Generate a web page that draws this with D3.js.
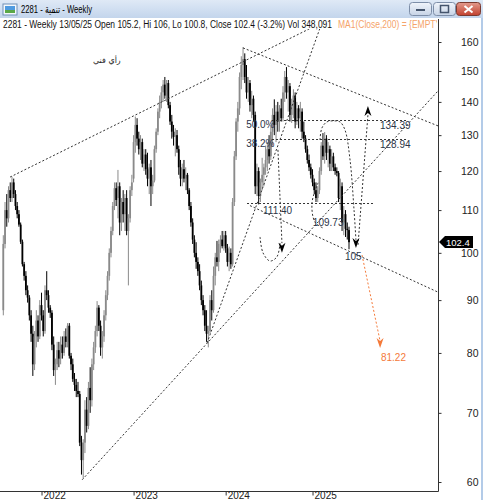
<!DOCTYPE html>
<html>
<head>
<meta charset="utf-8">
<script src="https://cdn.jsdelivr.net/npm/d3@7"></script>
<style>
body { margin: 0; background: #fff; }
svg { display: block; font-family: "Liberation Sans", Arial, "DejaVu Sans", sans-serif; }
</style>
</head>
<body>
<div id="chart"></div>
<script>
// weekly candles, 2281
var opens = [88,102,110,108,115,113,117,114,111,109,106.5,102.5,97.5,95,92,90.5,87,83.5,78,83,86,83,89,87,84,92,91,88.5,87.5,81.5,
  77,78,80.5,79,81.5,80,83,82,85,79.5,78,75.5,74.5,73.5,73,65.5,63,65.5,70.5,68,74,72,78,81,84,88.5,85,81,83,87,
  91,95,100,105,111,115.5,113,116,107,112,109,113,105,108,115,118,128,133,129,126,128,122,124.5,120.5,118,121,116,117.5,126,131,
  137,140,143,145.5,142,146,139,134,131,129.5,130,126,121,118,120.5,118,119,115,111,107,103,100,98,96,93,90,88,85,83.5,84,
  90,88,95,99,98,102,103,101.5,104,101,98,100,97.5,112,124,134,138,148,152,154,148,143,146,139,141,136,116,120,113.5,117,
  119,121,123,126,124,131,136,133,137,134,138,135,143,148,143,145,136,139,142,134,138,135,137,131,129,126,123,121,119,117,
  115,113,115,120,127,124,129,125,126,122,124,121,120,119.5,113,116,107,109,105.5,105.2];
var highs = [104,112,114,116,117,118.5,118,115,112,110,107,103,98,96,93,91,88,85,84,88,87,90,91.5,88,93,96,92,89,88,83,
  79,82,82,83,83,84,84.5,85.5,85.5,80,79,76.5,75.5,75,73.5,66.5,66,72,72.5,75,77.5,79,82,85,89.8,89,86,84,88,92,
  96,101,106,112,117,117,120.3,117,113,115,114,115,109,116,119,130,135.5,135,131,130,129,126,126,125,122,123,119,127,132,138,
  142,145,147,148,147,147,140,136,133,132,131.5,127,123,122,123,121,119.5,115.5,112,108,104,102.4,99,97.5,94,91,89,88,85,91,
  92,97,100,102.7,103,104,105,105,105,102,101.4,101,113,125.5,135,140,149.5,155,158.2,156,152,148,147,143.5,142,137,122,121,118,123.6,
  122,127,128,130,133,138,140.8,139,140,139,141,145,150,151.3,147,146,141,144,143,140,139,140,138,134,130,127,124.5,122,120.5,118,
  117,116,121,128,130.6,130.9,130,128,127,126,125,122,121,120,118,117,111,110,107,106];
var lows = [87,101,106,107,112,112,113,110,108,106,102,97,94,91,89.5,86,82,76,77,81,82,82.5,86,83,83.5,90,87.5,86.5,80.5,76,
  74.5,77,77.5,78,79,79.5,81,81,79,77,75,73.5,72.5,72.5,65,61,60.5,64,67,67.5,70,71,77,80,83,84,79.5,79,82,86,
  90,94,99,104,110,111,108,104,105,107,105,104,93,107,113.5,117,125,127,124.5,123,121,120,119,116,114,111,114,117,125,130,
  135,138,140,141,140,138,133,129,127,124,125,119,116,116,117,115,114,110,106,102,99,96.5,95,92,89,87,84,82,81,83.5,
  86,87.5,93,97,96,100,101,100.5,100,97,96,96.5,97,111,123,131,136,144,147,146,141,140,137,135,134,114,113.5,111.4,112,115,
  116,119,120,122,123,127,130,128,131,131,134,134,140,141,137,134,133.6,135,132,133,132,131,129,128,125,122,120,118,116,114,
  112,112,114,119,123,122,123,121,120,120,120,119,118.6,112,110,105,104,103.6,103,100.8];
var closes = [102,110,108,115,113,117,114,111,109,106.5,102.5,97.5,95,92,90.5,87,83.5,78,83,86,83,89,87,84,92,91,88.5,87.5,81.5,77,
  78,80.5,79,81.5,80,83,82,85,79.5,78,75.5,74.5,73.5,73,65.5,63,65.5,70.5,68,74,72,78,81,84,88.5,85,81,83,87,91,
  95,100,105,111,115.5,112.5,116,107,112,109,113,105,108,115,117,128,133,129,126,128,122,124.5,120.5,118,121,116,117.5,126,131,137,
  140,143,145.5,142,146,139,134,131,129.5,130,126,121,118,120.5,118,119,115,111,107,103,100,98,96,93,90,88,85,83.5,84,90,
  88,95,99,98,102,103,101.5,104,101,98,100,97.5,112,124,134,138,148,152,154,148,143,146,139,141,136,116,120,113.5,117,119,
  121,123,126,124,131,136,133,137,134,138,135,143,148,143,145,136,139,142,134,138,135,137,131,129,126,123,121,119,117,115,
  113,115,120,127,124,129,125,126,122,124,121,120,119.5,113,116,107,109,105.5,105.2,102.4];

var priceTicks = [60, 70, 80, 90, 100, 110, 120, 130, 140, 150, 160];
var yearIdx = [22, 75, 128, 178];
var yearLabels = ["2022", "2023", "2024", "2025"];
var lastClose = 102.4;

// hand-drawn studies, as [bar index, price]
var trendLines = [
  [[3.9, 118.4], [209.7, 175.7]],
  [[138, 157.9], [250.3, 132.7]],
  [[117.3, 81.8], [188.1, 175.7]],
  [[45.4, 60.3], [250.8, 143.8]],
  [[142, 111.1], [250.3, 91.6]]
];
var levels = [
  { p: 134.39, from: 154.7, to: 232.4 },
  { p: 128.94, from: 154.7, to: 232.4 },
  { p: 111.7, from: 140.3, to: 212.8 }
];
var notes = [
  { t: "50.0%", i: 139.8, p: 132.1 },
  { t: "38.2%", i: 139.8, p: 126.7 },
  { t: "134.39", i: 216.8, p: 131.8 },
  { t: "128.94", i: 216.8, p: 126.2 },
  { t: "111.40", i: 149.5, p: 109.0 },
  { t: "109.73", i: 178.2, p: 106.2 },
  { t: "105", i: 196.7, p: 98.4 }
];
var curves = [
  [[147.8, 103.6], [149.5, 100.0], [153.5, 98.2], [157.5, 99.1], [159.3, 102.2]],
  [[182.3, 128.6], [183.4, 132.1], [186.3, 133.9], [190.4, 134.2], [193.8, 133.9], [196.7, 131.5], [199.6, 123.0], [201.9, 110.0], [203.0, 102.9]],
  [[181.2, 116.9], [177.7, 111.8], [179.4, 107.1], [184.0, 105.7]],
  [[158.1, 125.8], [160.4, 102.2]],
  [[204.2, 101.8], [209.9, 136.0]]
];
var arrowsDown = [[160.4, 100.0], [203.0, 101.1]];
var arrowsUp = [[209.9, 138.75]];
var target = { line: [[206.5, 99.5], [216.8, 82.3]], tip: [216.9, 80.9], t: "81.22", i: 217.4, p: 78.6 };
var arabicNote = { t: "رأي فني", i: 51.6, p: 152.7 };

var svg = d3.select("#chart").append("svg").attr("width", 483).attr("height", 500);
var defs = svg.append("defs");

// window title bar
var tg = defs.append("linearGradient").attr("id", "tbar").attr("x1", 0).attr("x2", 0).attr("y1", 0).attr("y2", 1);
tg.append("stop").attr("offset", "0%").attr("stop-color", "#dfe9f6");
tg.append("stop").attr("offset", "100%").attr("stop-color", "#c3d5ec");
var bg = defs.append("linearGradient").attr("id", "btn").attr("x1", 0).attr("x2", 0).attr("y1", 0).attr("y2", 1);
bg.append("stop").attr("offset", "0%").attr("stop-color", "#f1f5fb");
bg.append("stop").attr("offset", "100%").attr("stop-color", "#c6d3e6");
var cg = defs.append("linearGradient").attr("id", "cbtn").attr("x1", 0).attr("x2", 0).attr("y1", 0).attr("y2", 1);
cg.append("stop").attr("offset", "0%").attr("stop-color", "#e29a8d");
cg.append("stop").attr("offset", "100%").attr("stop-color", "#c2412f");

svg.append("rect").attr("x", 0).attr("y", 0).attr("width", 483).attr("height", 18).attr("fill", "url(#tbar)");
svg.append("rect").attr("x", 481).attr("y", 18).attr("width", 2).attr("height", 482).attr("fill", "#b3cbe8");
var icon = svg.append("g").attr("transform", "translate(3,4)");
icon.append("rect").attr("width", 14).attr("height", 11).attr("fill", "#f4f8fc").attr("stroke", "#6f8fb5");
icon.append("rect").attr("x", 2).attr("y", 2).attr("width", 10).attr("height", 7).attr("fill", "#4f9be0");
icon.append("rect").attr("x", 2).attr("y", 6).attr("width", 10).attr("height", 3).attr("fill", "#5aa847");
svg.append("text").attr("x", 21).attr("y", 13).attr("font-size", 10.5).attr("fill", "#000")
  .attr("textLength", 71).attr("lengthAdjust", "spacingAndGlyphs")
  .text("2281 - تنمية - Weekly");
svg.append("rect").attr("x", 409.5).attr("y", 2.5).attr("width", 22).attr("height", 13).attr("rx", 3)
  .attr("fill", "url(#btn)").attr("stroke", "#7d8ea8");
svg.append("rect").attr("x", 416).attr("y", 9).attr("width", 9).attr("height", 2).attr("fill", "#44546c");
svg.append("rect").attr("x", 433.5).attr("y", 2.5).attr("width", 22).attr("height", 13).attr("rx", 3)
  .attr("fill", "url(#btn)").attr("stroke", "#7d8ea8");
svg.append("rect").attr("x", 440.5).attr("y", 5.5).attr("width", 8).attr("height", 7)
  .attr("fill", "none").attr("stroke", "#44546c").attr("stroke-width", 1.5);
svg.append("rect").attr("x", 456.5).attr("y", 2.5).attr("width", 24).attr("height", 13).attr("rx", 3)
  .attr("fill", "url(#cbtn)").attr("stroke", "#7a3a30");
svg.append("path").attr("d", "M464.5,6 L472.5,12.5 M472.5,6 L464.5,12.5")
  .attr("stroke", "#fff").attr("stroke-width", 2);

// scales
var x = d3.scaleLinear().domain([0, 199]).range([3.3, 349]);
var y = d3.scaleLog().domain([60, 160]).range([482, 42]);

defs.append("clipPath").attr("id", "plotclip").append("rect")
  .attr("x", 0).attr("y", 29).attr("width", 438).attr("height", 462);
defs.append("clipPath").attr("id", "headclip").append("rect")
  .attr("x", 0).attr("y", 18).attr("width", 437).attr("height", 14);

// info line
var head = svg.append("g").attr("clip-path", "url(#headclip)");
head.append("text").attr("x", 3).attr("y", 28).attr("font-size", 10).attr("fill", "#111")
  .attr("textLength", 329).attr("lengthAdjust", "spacingAndGlyphs")
  .text("2281 - Weekly 13/05/25 Open 105.2, Hi 106, Lo 100.8, Close 102.4 (-3.2%) Vol 348,091");
head.append("text").attr("x", 338).attr("y", 28).attr("font-size", 10).attr("fill", "#f5a36a")
  .attr("textLength", 106).attr("lengthAdjust", "spacingAndGlyphs")
  .text("MA1(Close,200) = {EMPTY}");

// frame
svg.append("line").attr("x1", 438.5).attr("x2", 438.5).attr("y1", 19).attr("y2", 491.5).attr("stroke", "#333");
svg.append("line").attr("x1", 0).attr("x2", 438.5).attr("y1", 491.5).attr("y2", 491.5).attr("stroke", "#333");

var plot = svg.append("g").attr("clip-path", "url(#plotclip)");

var bars = closes.map(function (c, i) {
  return { i: i, o: opens[i], h: highs[i], l: lows[i], c: c };
});
var colour = function (d) { return d.c >= d.o ? "#8a8a8a" : "#000"; };

plot.selectAll("line.wick")
  .data(bars)
  .enter()
  .append("line")
  .attr("class", "wick")
  .attr("x1", function (d) { return x(d.i); })
  .attr("x2", function (d) { return x(d.i); })
  .attr("y1", function (d) { return y(d.h); })
  .attr("y2", function (d) { return y(d.l); })
  .attr("stroke", colour)
  .attr("stroke-width", 1);
plot.selectAll("rect.body")
  .data(bars)
  .enter()
  .append("rect")
  .attr("class", "body")
  .attr("x", function (d) { return x(d.i) - 0.9; })
  .attr("width", 1.8)
  .attr("y", function (d) { return y(Math.max(d.o, d.c)); })
  .attr("height", function (d) { return Math.max(1, Math.abs(y(d.o) - y(d.c))); })
  .attr("fill", colour);

// studies
var ln = d3.line().x(function (d) { return x(d[0]); }).y(function (d) { return y(d[1]); });
var curvy = d3.line().x(function (d) { return x(d[0]); }).y(function (d) { return y(d[1]); }).curve(d3.curveCatmullRom);
var dash = "2,2";

plot.selectAll("path.trend")
  .data(trendLines)
  .enter()
  .append("path")
  .attr("class", "trend")
  .attr("d", ln)
  .attr("fill", "none")
  .attr("stroke", "#333")
  .attr("stroke-dasharray", dash);
plot.selectAll("line.level")
  .data(levels)
  .enter()
  .append("line")
  .attr("x1", function (d) { return x(d.from); })
  .attr("x2", function (d) { return x(d.to); })
  .attr("y1", function (d) { return Math.round(y(d.p)) + 0.5; })
  .attr("y2", function (d) { return Math.round(y(d.p)) + 0.5; })
  .attr("stroke", "#333")
  .attr("stroke-dasharray", dash);
plot.selectAll("path.curve")
  .data(curves)
  .enter()
  .append("path")
  .attr("class", "curve")
  .attr("d", curvy)
  .attr("fill", "none")
  .attr("stroke", "#333")
  .attr("stroke-dasharray", dash);

plot.selectAll("path.down")
  .data(arrowsDown)
  .enter()
  .append("path")
  .attr("d", function (d) {
    var px = x(d[0]), py = y(d[1]);
    return "M" + px + "," + py + "L" + (px - 3.5) + "," + (py - 10) + "L" + px + "," + (py - 7) + "L" + (px + 3.5) + "," + (py - 10) + "Z";
  })
  .attr("fill", "#000");
plot.selectAll("path.up")
  .data(arrowsUp)
  .enter()
  .append("path")
  .attr("d", function (d) {
    var px = x(d[0]), py = y(d[1]);
    return "M" + px + "," + py + "L" + (px - 3.5) + "," + (py + 10) + "L" + px + "," + (py + 7) + "L" + (px + 3.5) + "," + (py + 10) + "Z";
  })
  .attr("fill", "#000");

// projected target in orange
plot.append("path").attr("d", ln(target.line)).attr("fill", "none")
  .attr("stroke", "#f47a3a").attr("stroke-dasharray", dash);
plot.append("path").attr("d", function () {
    var px = x(target.tip[0]), py = y(target.tip[1]);
    return "M" + px + "," + py + "L" + (px - 3.5) + "," + (py - 10) + "L" + px + "," + (py - 7) + "L" + (px + 3.5) + "," + (py - 10) + "Z";
  })
  .attr("fill", "#f47a3a");
plot.append("text").attr("x", x(target.i)).attr("y", y(target.p))
  .attr("font-size", 10).attr("fill", "#f47a3a").text(target.t);

plot.selectAll("text.note")
  .data(notes)
  .enter()
  .append("text")
  .attr("class", "note")
  .attr("x", function (d) { return x(d.i); })
  .attr("y", function (d) { return y(d.p); })
  .attr("font-size", 10)
  .attr("fill", "#2c3548")
  .text(function (d) { return d.t; });
plot.append("text").attr("x", x(arabicNote.i)).attr("y", y(arabicNote.p))
  .attr("font-size", 8).attr("fill", "#222").attr("font-family", "DejaVu Sans")
  .text(arabicNote.t);

// price axis on the right
var yAxis = d3.axisRight(y).tickValues(priceTicks).tickSize(3).tickFormat(d3.format("d"));
var gy = svg.append("g").attr("transform", "translate(438.5,0)").call(yAxis);
gy.select(".domain").remove();
gy.selectAll(".tick line").attr("stroke", "#333");
gy.selectAll(".tick text").attr("x", 40).attr("text-anchor", "end")
  .attr("font-size", 10.5).attr("font-family", "Liberation Sans, Arial, sans-serif").attr("fill", "#222");

// last price tag
var ly = Math.round(y(lastClose));
svg.append("path")
  .attr("d", "M439," + ly + "L445," + (ly - 6) + "L473," + (ly - 6) + "L473," + (ly + 6) + "L445," + (ly + 6) + "Z")
  .attr("fill", "#000");
svg.append("text").attr("x", 446).attr("y", ly + 3.5).attr("font-size", 9.5).attr("fill", "#fff").text(d3.format(".1f")(lastClose));

// year axis
var xAxis = d3.axisBottom(x).tickValues(yearIdx).tickSize(4).tickFormat(function (d, k) { return yearLabels[k]; });
var gx = svg.append("g").attr("transform", "translate(0,491.5)").call(xAxis);
gx.select(".domain").remove();
gx.selectAll(".tick line").attr("stroke", "#333");
gx.selectAll(".tick text").attr("x", 1.5).attr("y", 0.5).attr("dy", "0.71em").attr("text-anchor", "start")
  .attr("font-size", 10).attr("font-family", "Liberation Sans, Arial, sans-serif").attr("fill", "#222");
</script>
</body>
</html>
